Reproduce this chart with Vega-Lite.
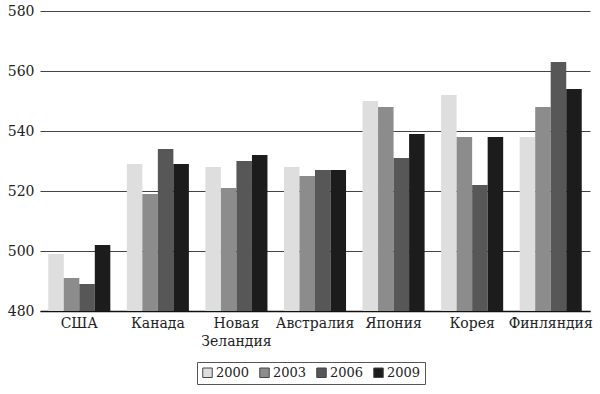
{
  "$schema": "https://vega.github.io/schema/vega-lite/v6.json",
  "width": 550,
  "height": 300,
  "autosize": {"type": "none"},
  "padding": {"left": 40, "top": 11, "right": 10, "bottom": 83},
  "background": "white",
  "data": {
    "values": [
      {"country": "США", "year": "2000", "score": 499},
      {"country": "США", "year": "2003", "score": 491},
      {"country": "США", "year": "2006", "score": 489},
      {"country": "США", "year": "2009", "score": 502},
      {"country": "Канада", "year": "2000", "score": 529},
      {"country": "Канада", "year": "2003", "score": 519},
      {"country": "Канада", "year": "2006", "score": 534},
      {"country": "Канада", "year": "2009", "score": 529},
      {"country": "Новая Зеландия", "year": "2000", "score": 528},
      {"country": "Новая Зеландия", "year": "2003", "score": 521},
      {"country": "Новая Зеландия", "year": "2006", "score": 530},
      {"country": "Новая Зеландия", "year": "2009", "score": 532},
      {"country": "Австралия", "year": "2000", "score": 528},
      {"country": "Австралия", "year": "2003", "score": 525},
      {"country": "Австралия", "year": "2006", "score": 527},
      {"country": "Австралия", "year": "2009", "score": 527},
      {"country": "Япония", "year": "2000", "score": 550},
      {"country": "Япония", "year": "2003", "score": 548},
      {"country": "Япония", "year": "2006", "score": 531},
      {"country": "Япония", "year": "2009", "score": 539},
      {"country": "Корея", "year": "2000", "score": 552},
      {"country": "Корея", "year": "2003", "score": 538},
      {"country": "Корея", "year": "2006", "score": 522},
      {"country": "Корея", "year": "2009", "score": 538},
      {"country": "Финляндия", "year": "2000", "score": 538},
      {"country": "Финляндия", "year": "2003", "score": 548},
      {"country": "Финляндия", "year": "2006", "score": 563},
      {"country": "Финляндия", "year": "2009", "score": 554}
    ]
  },
  "mark": {"type": "bar"},
  "encoding": {
    "x": {
      "field": "country",
      "type": "nominal",
      "sort": null,
      "title": null,
      "scale": {"paddingInner": 0.21, "paddingOuter": 0.105},
      "axis": {
        "labelAngle": 0,
        "labelFont": "DejaVu Serif",
        "labelFontSize": 14,
        "labelColor": "#222",
        "labelPadding": 5,
        "labelLineHeight": 18,
        "labelExpr": "datum.label == 'Новая Зеландия' ? ['Новая', 'Зеландия'] : datum.label",
        "ticks": false,
        "domainColor": "#111",
        "domainWidth": 1.6,
        "grid": false
      }
    },
    "xOffset": {"field": "year", "type": "nominal", "scale": {"paddingInner": 0, "paddingOuter": 0}},
    "y": {
      "field": "score",
      "type": "quantitative",
      "title": null,
      "scale": {"domain": [480, 580], "zero": false, "nice": false},
      "axis": {
        "values": [480, 500, 520, 540, 560, 580],
        "labelFont": "DejaVu Serif",
        "labelFontSize": 14,
        "labelColor": "#222",
        "labelPadding": 6,
        "ticks": false,
        "domain": false,
        "grid": true,
        "gridColor": "#444",
        "gridWidth": 1
      }
    },
    "y2": {"datum": 480},
    "color": {
      "field": "year",
      "type": "nominal",
      "title": null,
      "scale": {
        "domain": ["2000", "2003", "2006", "2009"],
        "range": ["#dedede", "#8c8c8c", "#575757", "#1c1c1c"]
      },
      "legend": {
        "orient": "none",
        "legendX": 157,
        "legendY": 351,
        "direction": "horizontal",
        "symbolType": "square",
        "symbolSize": 90,
        "symbolStrokeColor": "#444",
        "symbolStrokeWidth": 1,
        "labelFont": "DejaVu Serif",
        "labelFontSize": 13,
        "labelColor": "#222",
        "labelOffset": 2,
        "columnPadding": 7,
        "padding": 4,
        "strokeColor": "#555",
        "fillColor": "white"
      }
    }
  },
  "config": {
    "view": {"stroke": null}
  }
}
